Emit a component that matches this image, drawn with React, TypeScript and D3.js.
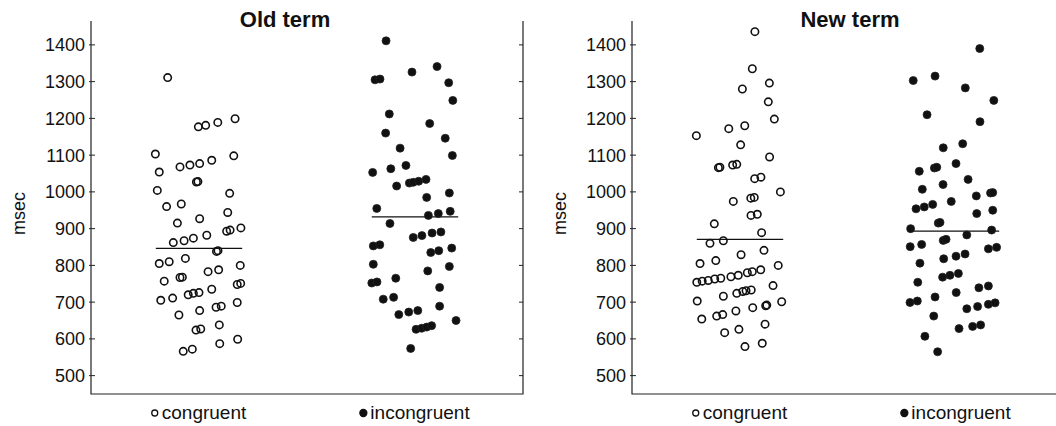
import React, { useEffect, useRef } from 'react';
import * as d3 from 'd3';

// [x position (1 = congruent, 2 = incongruent, jittered), msec]
const oldCongruent: [number, number][] = [
  [0.855, 1311], [0.997, 1177], [1.031, 1181], [1.087, 1189], [1.167, 1199], [0.798, 1103], [1.161, 1098],
  [0.816, 1054], [0.912, 1068], [0.958, 1073], [1.003, 1077], [1.059, 1086], [0.988, 1027], [0.995, 1028],
  [0.807, 1004], [1.142, 996], [0.85, 960], [0.918, 967], [1.133, 944], [0.9, 915], [1.003, 927],
  [0.881, 862], [0.931, 867], [0.974, 874], [1.036, 882], [1.128, 893], [1.144, 896], [1.194, 902],
  [1.081, 838], [1.088, 840], [0.816, 805], [0.862, 810], [0.937, 819], [1.191, 800], [1.042, 783],
  [1.091, 788], [0.839, 757], [0.912, 767], [0.923, 768], [1.177, 748], [1.193, 751], [0.823, 705],
  [0.878, 711], [0.95, 720], [0.974, 724], [1.0, 726], [1.059, 735], [1.177, 699], [0.907, 665],
  [1.003, 677], [1.079, 686], [1.103, 689], [0.986, 624], [1.008, 627], [1.094, 638], [0.927, 566],
  [0.969, 572], [1.096, 587], [1.179, 599],
];

const oldIncongruent: [number, number][] = [
  [1.866, 1411], [1.815, 1305], [1.838, 1307], [1.986, 1326], [2.102, 1341], [2.156, 1297], [2.175, 1249],
  [1.881, 1212], [2.068, 1186], [1.864, 1160], [2.14, 1146], [1.931, 1119], [2.173, 1099], [1.804, 1053],
  [1.888, 1063], [1.958, 1072], [1.915, 1016], [1.974, 1024], [1.992, 1026], [2.017, 1029], [2.051, 1034],
  [2.054, 985], [2.159, 997], [1.823, 955], [2.062, 936], [2.108, 941], [2.163, 947], [1.884, 914],
  [1.807, 853], [1.837, 856], [1.992, 876], [2.032, 881], [2.079, 888], [2.12, 891], [2.073, 835],
  [2.11, 840], [2.17, 847], [1.807, 803], [2.059, 785], [2.159, 797], [1.8, 752], [1.824, 755],
  [1.911, 765], [2.114, 740], [1.853, 708], [1.901, 713], [2.114, 689], [1.925, 666], [1.971, 673],
  [2.013, 677], [2.19, 650], [2.005, 626], [2.031, 629], [2.054, 632], [2.077, 636], [1.98, 574],
];

const newCongruent: [number, number][] = [
  [1.069, 1436], [1.057, 1335], [1.136, 1296], [1.011, 1280], [1.131, 1245], [1.159, 1198], [0.948, 1172],
  [1.022, 1180], [0.798, 1153], [1.003, 1128], [1.137, 1095], [0.9, 1066], [0.907, 1067], [0.966, 1073],
  [0.985, 1075], [1.068, 1036], [1.097, 1040], [1.187, 1000], [0.969, 974], [1.05, 983], [1.066, 985],
  [1.051, 936], [1.08, 939], [0.881, 913], [1.1, 889], [0.861, 860], [0.923, 867], [0.815, 805],
  [0.888, 813], [1.005, 829], [1.111, 841], [1.177, 800], [0.8, 754], [0.825, 757], [0.853, 759],
  [0.883, 763], [0.911, 765], [0.958, 769], [0.992, 773], [1.034, 780], [1.057, 783], [1.096, 788],
  [1.153, 745], [0.923, 716], [0.985, 724], [1.013, 729], [1.028, 731], [1.052, 733], [0.802, 703],
  [1.193, 701], [0.892, 662], [0.92, 666], [0.981, 676], [1.059, 685], [1.119, 690], [1.124, 692],
  [0.823, 654], [0.929, 617], [0.995, 626], [1.116, 640], [1.023, 579], [1.103, 588],
];

const newIncongruent: [number, number][] = [
  [2.11, 1390], [1.802, 1303], [1.903, 1315], [2.043, 1283], [2.175, 1249], [1.866, 1210], [2.111, 1191],
  [1.941, 1120], [2.031, 1131], [1.83, 1056], [1.9, 1065], [1.911, 1067], [2.0, 1077], [2.056, 1034],
  [1.844, 1007], [1.94, 1020], [2.094, 989], [2.16, 997], [2.17, 998], [1.978, 974], [1.815, 954],
  [1.853, 959], [1.892, 966], [2.096, 941], [2.17, 950], [1.918, 915], [1.926, 917], [1.79, 900],
  [2.165, 896], [2.05, 883], [1.788, 851], [1.841, 857], [1.941, 868], [1.954, 871], [2.15, 845],
  [2.188, 849], [1.833, 806], [1.943, 818], [2.0, 825], [2.042, 831], [1.823, 754], [1.938, 768],
  [1.972, 773], [2.011, 778], [2.106, 739], [2.15, 744], [2.001, 726], [1.787, 699], [1.821, 703],
  [1.903, 714], [2.05, 682], [2.1, 688], [2.15, 694], [2.181, 698], [1.897, 662], [2.014, 628],
  [2.077, 634], [2.114, 638], [1.856, 607], [1.915, 565],
];

const oldMeans = [846, 932];
const newMeans = [871, 893];

const panelTitles = ['Old term', 'New term'];
const categories = ['congruent', 'incongruent'];
const yTicks = [500, 600, 700, 800, 900, 1000, 1100, 1200, 1300, 1400];

const panels = [
  { title: panelTitles[0], congruent: oldCongruent, incongruent: oldIncongruent, means: oldMeans, titleShift: -22 },
  { title: panelTitles[1], congruent: newCongruent, incongruent: newIncongruent, means: newMeans, titleShift: 2 },
];

const FONT = '"Liberation Sans", Arial, Helvetica, sans-serif';

const App = () => {
  const svgRef = useRef<SVGSVGElement>(null);

  useEffect(() => {
    const width = 1056;
    const height = 426;
    const svg = d3.select(svgRef.current);
    svg.selectAll('*').remove();
    svg.attr('width', width).attr('height', height);

    const panelLefts = [91, 632];
    const innerWidth = 432;
    const top = 21;
    const bottom = 394;

    const yScale = d3.scaleLinear().domain([450, 1465]).range([bottom, top]);
    const xScale = d3.scaleLinear().domain([0.5, 2.5]).range([0, innerWidth]);

    panels.forEach((p, pi) => {
      const g = svg.append('g').attr('transform', `translate(${panelLefts[pi]},0)`);

      // title
      g.append('text')
        .attr('x', innerWidth / 2 + p.titleShift)
        .attr('y', 27)
        .attr('text-anchor', 'middle')
        .style('font-family', FONT)
        .style('font-size', '22px')
        .style('font-weight', 'bold')
        .style('fill', '#111')
        .text(p.title);

      // frame: left, bottom, right
      g.append('path')
        .attr('d', `M0,${top}V${bottom}H${innerWidth}V${top}`)
        .attr('fill', 'none')
        .attr('stroke', '#222')
        .attr('stroke-width', 1.2);

      // y ticks + labels
      yTicks.forEach(t => {
        const y = yScale(t);
        g.append('line').attr('x1', -2).attr('x2', 4).attr('y1', y).attr('y2', y)
          .attr('stroke', '#222').attr('stroke-width', 1);
        g.append('line').attr('x1', innerWidth - 4).attr('x2', innerWidth).attr('y1', y).attr('y2', y)
          .attr('stroke', '#222').attr('stroke-width', 1);
        g.append('text')
          .attr('x', -6)
          .attr('y', y)
          .attr('dy', '0.36em')
          .attr('text-anchor', 'end')
          .style('font-family', FONT)
          .style('font-size', '18px')
          .style('fill', '#111')
          .text(t);
      });

      // axis label
      g.append('text')
        .attr('transform', `translate(-66,${(top + bottom) / 2 + 6}) rotate(-90)`)
        .attr('text-anchor', 'middle')
        .style('font-family', FONT)
        .style('font-size', '18px')
        .style('fill', '#111')
        .text('msec');

      // mean lines
      p.means.forEach((m, i) => {
        g.append('line')
          .attr('x1', xScale(i + 1 - 0.2))
          .attr('x2', xScale(i + 1 + 0.2))
          .attr('y1', yScale(m))
          .attr('y2', yScale(m))
          .attr('stroke', '#111')
          .attr('stroke-width', 1.2);
      });

      // congruent: open circles
      g.selectAll('.cong')
        .data(p.congruent)
        .enter()
        .append('circle')
        .attr('class', 'cong')
        .attr('cx', d => xScale(d[0]))
        .attr('cy', d => yScale(d[1]))
        .attr('r', 3.7)
        .attr('fill', 'none')
        .attr('stroke', '#111')
        .attr('stroke-width', 1.6);

      // incongruent: filled circles
      g.selectAll('.incong')
        .data(p.incongruent)
        .enter()
        .append('circle')
        .attr('class', 'incong')
        .attr('cx', d => xScale(d[0]))
        .attr('cy', d => yScale(d[1]))
        .attr('r', 4)
        .attr('fill', '#111')
        .attr('stroke', '#222')
        .attr('stroke-width', 0.8);

      // category legend under the axis
      categories.forEach((c, i) => {
        const lg = g.append('g').attr('transform', `translate(${xScale(i + 1)},${bottom + 25})`);
        const label = lg.append('text')
          .attr('x', 0)
          .attr('y', 0)
          .attr('text-anchor', 'middle')
          .style('font-family', FONT)
          .style('font-size', '19px')
          .style('fill', '#111')
          .text(c);
        const tw = (label.node() as SVGTextElement).getComputedTextLength();
        label.attr('x', 5);
        lg.append('circle')
          .attr('cx', 5 - tw / 2 - 7)
          .attr('cy', -6)
          .attr('r', i === 0 ? 3 : 3.5)
          .attr('fill', i === 0 ? 'white' : '#111')
          .attr('stroke', '#111')
          .attr('stroke-width', 1.3);
      });
    });
  }, []);

  return (
    <div style={{ position: 'absolute', left: 0, top: 0, background: 'white' }}>
      <svg ref={svgRef} style={{ display: 'block' }}></svg>
    </div>
  );
};

export default App;
